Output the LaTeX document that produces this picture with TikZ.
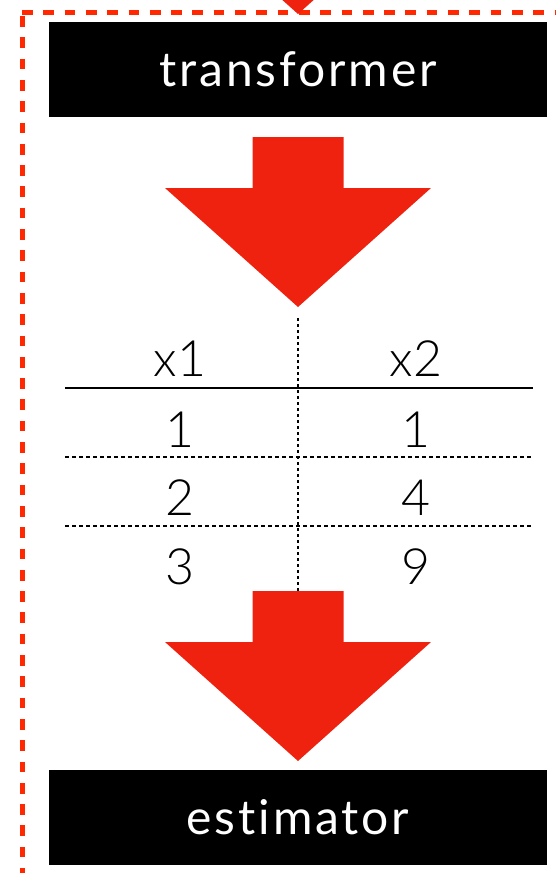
\documentclass[tikz,border=0pt]{standalone}
\usepackage{fontspec}
\setmainfont{Lato}[Ligatures=NoCommon]
\newfontfamily\lightfont{Lato Light}[Ligatures=NoCommon]
\definecolor{ArrowRed}{RGB}{238,34,14}
\definecolor{FrameRed}{RGB}{255,40,0}
\usetikzlibrary{positioning, arrows.meta, calc}

\tikzset{
  stagebox/.style={fill=black, text=white, minimum width=498pt, minimum height=95pt,
    inner sep=0pt, font=\fontsize{48}{54}\selectfont\addfontfeatures{LetterSpace=6}},
  cell/.style={anchor=base, font=\lightfont\fontsize{50}{58}\selectfont},
  rowsep/.style={line width=1.5pt, dash pattern=on 4pt off 3pt},
  frame/.style={FrameRed, line width=5pt, dash pattern=on 10.7pt off 10.6pt},
  bigarrow/.pic={
    \fill[ArrowRed] (-45.5,0) -- (45.5,0) -- (45.5,51) -- (133,51) -- (0,170)
      -- (-133,51) -- (-45.5,51) -- cycle;
  }
}

\begin{document}
\begin{tikzpicture}[x=1pt,y=-1pt]
  \useasboundingbox (0,0) rectangle (556,873);
  \clip (0,0) rectangle (556,873);

  % dashed frame round the pipeline
  \coordinate (corner) at (22,12.7);
  \draw[frame] (corner) -- (560,12.7);
  \draw[frame] ($(corner)+(0,3.3)$) -- (22,880);
  \pic (arrow0) at (298,-156) {bigarrow};

  \node[stagebox] (transformer) at (298,69.5) {transformer};
  \pic (arrow1) at (298,137) {bigarrow};

  % the table between the two steps
  \coordinate (coltop) at (298,318);
  \coordinate (colbot) at (298,591);
  \draw[line width=1.5pt, dash pattern=on 3pt off 3pt] (coltop) -- (colbot);
  \draw[line width=2pt] (65,388) -- (533,388);
  \foreach \y in {457,526}
    \draw[rowsep] (65,\y) -- (533,\y);
  \node[cell] (h1) at (180,376) {x1};
  \node[cell] (h2) at (416,376) {x2};
  \foreach \a/\b/\y [count=\i] in {1/1/447,2/4/515,3/9/584}
  {
    \node[cell] (a\i) at (180,\y) {\a};
    \node[cell] (b\i) at (416,\y) {\b};
  }

  \pic (arrow2) at (298,591) {bigarrow};
  \node[stagebox] (estimator) at (298,817) {estimator};
\end{tikzpicture}
\end{document}
